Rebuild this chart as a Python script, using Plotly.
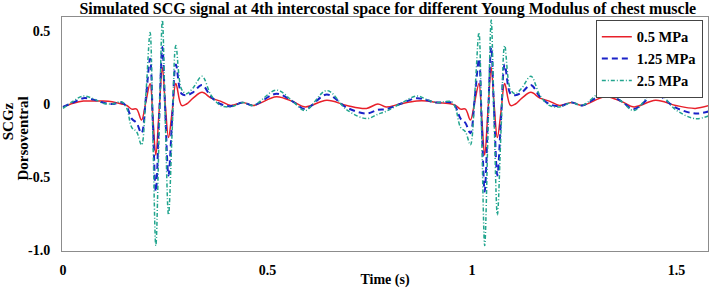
import plotly.graph_objects as go

# Time (s)
t = [0.000, 0.025, 0.050, 0.075, 0.098, 0.120, 0.143, 0.156, 0.168, 0.180,
     0.192, 0.203, 0.213, 0.220, 0.227, 0.235, 0.243, 0.250, 0.258, 0.267,
     0.276, 0.290, 0.302, 0.318, 0.340, 0.362, 0.385, 0.410, 0.440, 0.465,
     0.522, 0.563, 0.592, 0.645, 0.694, 0.742, 0.770, 0.790, 0.824, 0.865,
     0.890, 0.913, 0.950, 0.960, 0.972, 0.984, 0.996, 1.007, 1.017, 1.024,
     1.031, 1.039, 1.047, 1.054, 1.062, 1.071, 1.080, 1.094, 1.106, 1.122,
     1.144, 1.166, 1.189, 1.214, 1.244, 1.269, 1.326, 1.367, 1.396, 1.449,
     1.498, 1.546, 1.580]

# 0.5 MPa
r = [-0.02, 0.005, 0.02, 0.02, 0.02, 0.015, 0.0, -0.01, -0.035, -0.035,
     -0.11, 0.02, 0.14, -0.10, -0.35, -0.05, 0.25, 0.0, -0.23, -0.05,
     0.14, -0.01, 0.0, 0.04, 0.08, 0.04, 0.02, -0.01, 0.01, -0.01,
     0.05, 0.015, -0.02, 0.025, -0.01, -0.03, 0.0, -0.02, 0.0, 0.02,
     0.02, 0.01, 0.0, -0.01, -0.035, -0.035, -0.11, 0.02, 0.14, -0.10,
     -0.35, -0.05, 0.25, 0.0, -0.23, -0.05, 0.14, -0.01, 0.0, 0.04,
     0.08, 0.04, 0.02, -0.01, 0.01, -0.01, 0.05, 0.015, -0.02, 0.025,
     -0.01, -0.03, -0.01]

# 1.25 MPa
b = [-0.02, 0.01, 0.04, 0.03, 0.01, 0.0, 0.01, -0.02, -0.10, -0.13,
     -0.20, 0.05, 0.31, -0.15, -0.60, -0.10, 0.39, -0.05, -0.49, -0.10,
     0.27, 0.07, 0.06, 0.08, 0.13, 0.05, 0.0, -0.015, 0.01, -0.01,
     0.07, 0.015, -0.035, 0.065, -0.025, -0.065, -0.04, -0.035, 0.0, 0.04,
     0.025, 0.01, 0.01, -0.02, -0.10, -0.13, -0.20, 0.05, 0.31, -0.15,
     -0.60, -0.10, 0.39, -0.05, -0.49, -0.10, 0.27, 0.07, 0.06, 0.08,
     0.13, 0.05, 0.0, -0.015, 0.01, -0.01, 0.07, 0.015, -0.035, 0.065,
     -0.025, -0.065, -0.05]

# 2.5 MPa
g = [-0.03, 0.02, 0.055, 0.035, 0.005, 0.0, 0.015, -0.03, -0.16, -0.19,
     -0.28, 0.08, 0.49, -0.25, -0.97, -0.20, 0.575, -0.10, -0.76, -0.18,
     0.40, 0.10, 0.07, 0.11, 0.19, 0.06, -0.01, -0.02, 0.01, -0.01,
     0.095, 0.015, -0.045, 0.092, -0.04, -0.10, -0.07, -0.05, 0.0, 0.055,
     0.03, 0.01, 0.015, -0.03, -0.16, -0.19, -0.28, 0.08, 0.49, -0.25,
     -0.97, -0.20, 0.575, -0.10, -0.76, -0.18, 0.40, 0.10, 0.07, 0.11,
     0.19, 0.06, -0.01, -0.02, 0.01, -0.01, 0.095, 0.015, -0.045, 0.092,
     -0.04, -0.10, -0.08]

names = ["0.5 MPa", "1.25 MPa", "2.5 MPa"]
x_ticks = [0, 0.5, 1, 1.5]
x_tick_text = ["0", "0.5", "1", "1.5"]
y_ticks = [-1.0, -0.5, 0, 0.5]
y_tick_text = ["-1.0", "-0.5", "0", "0.5"]

FONT = "Liberation Serif"

fig = go.Figure()
fig.add_trace(go.Scatter(x=t, y=r, name=names[0], mode="lines",
                         line=dict(color="#e8202a", width=1.5, shape="spline", smoothing=1.0)))
fig.add_trace(go.Scatter(x=t, y=b, name=names[1], mode="lines",
                         line=dict(color="#1a22c8", width=2, dash="6px,4px", shape="spline", smoothing=1.0)))
fig.add_trace(go.Scatter(x=t, y=g, name=names[2], mode="lines",
                         line=dict(color="#22a58e", width=1.5, dash="4px,2px,1px,2px", shape="spline", smoothing=1.0)))

fig.update_layout(
    width=709, height=288,
    margin=dict(l=62, r=1, t=17, b=37),
    paper_bgcolor="white", plot_bgcolor="white",
    font=dict(family=FONT, size=14, color="black", weight="bold"),
    title=dict(text="Simulated SCG signal at 4th intercostal space for different Young Modulus of chest muscle",
               x=0.547, xanchor="center", y=0.972, yanchor="middle",
               font=dict(family=FONT, size=16, color="black", weight="bold")),
    showlegend=True,
    legend=dict(x=0.992, xanchor="right", y=0.988, yanchor="top",
                bgcolor="white", bordercolor="#444", borderwidth=1,
                font=dict(family=FONT, size=14.5, color="black", weight="bold"),
                itemwidth=30, tracegroupgap=0),
    xaxis=dict(range=[-0.0024, 1.577], tickvals=x_ticks, ticktext=x_tick_text,
               showgrid=False, zeroline=False, showline=True, linecolor="#8c8c8c",
               linewidth=1, mirror=True, ticks="outside", ticklen=6,
               tickcolor="rgba(0,0,0,0)",
               tickfont=dict(family=FONT, size=14, weight="bold"),
               title=dict(text="Time (s)", standoff=0,
                          font=dict(family=FONT, size=14, weight="bold"))),
    yaxis=dict(range=[-1.007, 0.596], tickvals=y_ticks, ticktext=y_tick_text,
               showgrid=False, zeroline=False, showline=True, linecolor="#8c8c8c",
               linewidth=1, mirror=True, ticks="outside", ticklen=8,
               tickcolor="rgba(0,0,0,0)",
               tickfont=dict(family=FONT, size=14, weight="bold")),
)

fig.add_annotation(text="SCGz", xref="paper", yref="paper", x=-0.083, y=0.556,
                   xanchor="center", yanchor="middle", textangle=-90, showarrow=False,
                   font=dict(family=FONT, size=15, color="black", weight="bold"))
fig.add_annotation(text="Dorsoventral", xref="paper", yref="paper", x=-0.061, y=0.479,
                   xanchor="center", yanchor="middle", textangle=-90, showarrow=False,
                   font=dict(family=FONT, size=15, color="black", weight="bold"))

fig.write_html("out.html", config={"displayModeBar": False},
               post_script="document.body.style.margin='0';")
